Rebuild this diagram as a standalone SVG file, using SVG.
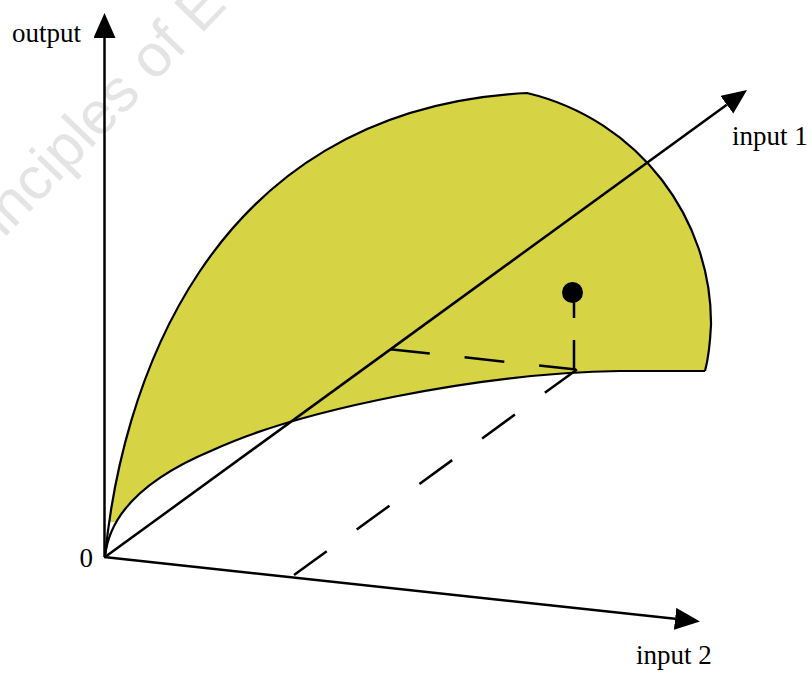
<svg xmlns="http://www.w3.org/2000/svg" width="812" height="673" viewBox="0 0 812 673">
  <style>
    .lbl { font-family: "Liberation Serif", "Times New Roman", serif; font-size: 27px; fill: #000; }
    .axis { stroke: #000; stroke-width: 2.5; fill: none; }
    .dash { stroke: #000; stroke-width: 2.5; fill: none; }
    .edge { stroke: #000; stroke-width: 2.2; fill: none; }
    .wm { font-family: "Liberation Sans", Arial, sans-serif; font-size: 60px; fill: #e4e4e4; }
  </style>
  <defs>
    <marker id="arr" markerUnits="userSpaceOnUse" markerWidth="26" markerHeight="23" refX="0" refY="11" orient="auto">
      <path d="M0,0 L25,11 L0,22 z" fill="#000"/>
    </marker>
    <clipPath id="fillclip">
      <rect x="0" y="0" width="812" height="522"/>
    </clipPath>
  </defs>

  <g id="watermark">
    <text class="wm" x="-38" y="282" transform="rotate(-46 -38 282)">Principles of Economics</text>
  </g>

  <g id="surface">
    <path clip-path="url(#fillclip)" fill="#d6d344" stroke="none"
      d="M105 557 C120 400 200 110 527 93 C640 120 712 220 711 325 C710 345 708 360 705 371 L620 371 C480 373 300 410 213 450 C160 472 110 505 105 557 Z"/>
    <path class="edge" d="M105 557 C120 400 200 110 527 93 C640 120 712 220 711 325 C710 345 708 360 705 371"/>
    <path class="edge" d="M705 371 L620 371 C480 373 300 410 213 450 C160 472 110 505 105 557"/>
  </g>

  <g id="connectors">
    <line class="axis" x1="104.5" y1="557" x2="104.5" y2="38" marker-end="url(#arr)"/>
    <line class="axis" x1="105" y1="557" x2="726.8" y2="104.7" marker-end="url(#arr)"/>
    <line class="axis" x1="104" y1="557" x2="675.1" y2="618.8" marker-end="url(#arr)"/>
    <line class="dash" x1="390" y1="349.2" x2="576" y2="369.5" stroke-dasharray="40 35"/>
    <line class="dash" x1="294" y1="575" x2="577" y2="369.5" stroke-dasharray="40.5 37"/>
    <line class="dash" x1="574" y1="368" x2="574" y2="292" stroke-dasharray="28 22"/>
  </g>

  <g id="point">
    <circle cx="572.5" cy="292.5" r="10.5" fill="#000"/>
  </g>

  <g id="labels">
    <text class="lbl" x="12" y="41.5">output</text>
    <text class="lbl" x="732" y="144.5">input 1</text>
    <text class="lbl" x="636" y="663.5">input 2</text>
    <text class="lbl" x="79.5" y="567">0</text>
  </g>
</svg>
